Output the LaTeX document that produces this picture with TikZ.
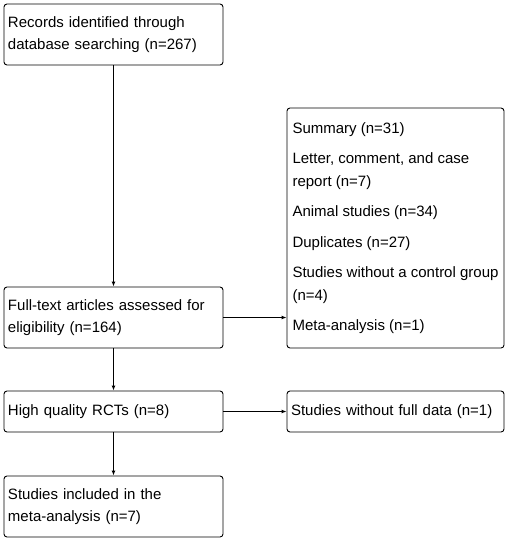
\documentclass[tikz,border=0pt]{standalone}
\usepackage{fontspec}
\setmainfont{Liberation Sans}
\usepackage{tikz}
\usepackage{xcolor}
\usetikzlibrary{arrows.meta}

\begin{document}
\begin{tikzpicture}[x=1pt,y=-1pt,>={Latex[length=5pt,width=4pt]},
  flow/.style={draw,rectangle,rounded corners=3pt,line width=0.9pt,align=left,
    inner xsep=4pt,inner ysep=0pt,font=\fontsize{15}{21.5}\selectfont}]
\useasboundingbox (0,0) rectangle (510,541);

\node[flow,text width=211pt,minimum height=61pt] (recs) at (113.5,34.5) {Records identified through\\database searching (n=267)};
\node[flow,text width=211pt,minimum height=61pt] (full) at (113.5,317.5) {Full-text articles assessed for\\eligibility (n=164)};
\node[flow,text width=211pt,minimum height=41pt] (hq) at (113.5,411.5) {High quality RCTs (n=8)};
\node[flow,text width=211pt,minimum height=61pt] (incl) at (113.5,506.5) {Studies included in the\\meta-analysis (n=7)};
\node[flow,minimum width=217pt,minimum height=240pt,font=\fontsize{15}{22.5}\selectfont] (excl) at (395.5,228) {Summary (n=31)\\[8pt]Letter, comment, and case\\report (n=7)\\[8pt]Animal studies (n=34)\\[8pt]Duplicates (n=27)\\[8pt]Studies without a control group\\(n=4)\\[8pt]Meta-analysis (n=1)};
\node[flow,text width=209pt,minimum height=41pt] (nofull) at (395.5,411.5) {Studies without full data (n=1)};

\draw[->,line width=0.9pt] (recs) -- (full);
\draw[->,line width=0.9pt] (full) -- (hq);
\draw[->,line width=0.9pt] (hq) -- (incl);
\draw[->,line width=0.9pt] (full) -- (excl.west |- full);
\draw[->,line width=0.9pt] (hq) -- (nofull);
\end{tikzpicture}
\end{document}
